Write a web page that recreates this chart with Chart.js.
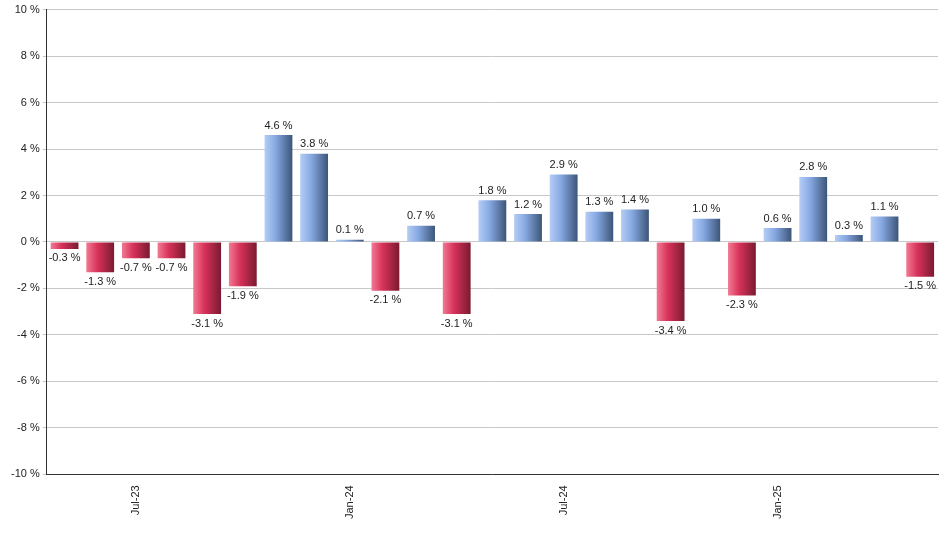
<!DOCTYPE html>
<html><head><meta charset="utf-8">
<script src="https://cdn.jsdelivr.net/npm/chart.js@4/dist/chart.umd.min.js"></script>
<style>body{margin:0;background:#fff}#wrap{width:940px;height:550px}</style>
</head><body><div id="wrap"><canvas id="c"></canvas></div>
<script>
// monthly returns, May-23 .. May-25
const months = ['May-23','Jun-23','Jul-23','Aug-23','Sep-23','Oct-23','Nov-23','Dec-23','Jan-24','Feb-24','Mar-24','Apr-24',
  'May-24','Jun-24','Jul-24','Aug-24','Sep-24','Oct-24','Nov-24','Dec-24','Jan-25','Feb-25','Mar-25','Apr-25','May-25'];
const returns = [-0.3,-1.3,-0.7,-0.7,-3.1,-1.9,4.6,3.8,0.1,-2.1,0.7,-3.1,1.8,1.2,2.9,1.3,1.4,-3.4,1.0,-2.3,0.6,2.8,0.3,1.1,-1.5];
const shownTicks = ['Jul-23','Jan-24','Jul-24','Jan-25'];
const barPct = 0.78;

function barFill(c) {
  const chart = c.chart, xs = chart.scales.x, area = chart.chartArea;
  const v = returns[c.dataIndex];
  if (!xs || !area) return v >= 0 ? '#7fa3e0' : '#d8325a';
  const cx = xs.getPixelForValue(c.dataIndex);
  const w = area.width / months.length * barPct;
  const g = chart.ctx.createLinearGradient(cx - w / 2, 0, cx + w / 2, 0);
  if (v >= 0) {
    g.addColorStop(0, '#b4cdf5'); g.addColorStop(0.4, '#86a8e2'); g.addColorStop(1, '#3c5578');
  } else {
    g.addColorStop(0, '#f27a93'); g.addColorStop(0.4, '#d8325a'); g.addColorStop(1, '#7a1a30');
  }
  return g;
}

const valueLabels = {
  id: 'valueLabels',
  afterDatasetsDraw(chart) {
    const ctx = chart.ctx;
    ctx.save();
    ctx.font = '11px Arial, "Liberation Sans"';
    ctx.fillStyle = '#222';
    ctx.textAlign = 'center';
    chart.getDatasetMeta(0).data.forEach((bar, i) => {
      const v = returns[i];
      const txt = v.toFixed(1) + ' %';
      if (v >= 0) { ctx.textBaseline = 'bottom'; ctx.fillText(txt, bar.x, bar.y - 4); }
      else { ctx.textBaseline = 'top'; ctx.fillText(txt, bar.x, bar.y + 4); }
    });
    ctx.restore();
  }
};

new Chart(document.getElementById('c'), {
  type: 'bar',
  data: { labels: months, datasets: [{ data: returns, backgroundColor: barFill, barPercentage: barPct, categoryPercentage: 1 }] },
  options: {
    responsive: true, maintainAspectRatio: false, animation: false,
    layout: { padding: { top: 2, right: 2, left: 8, bottom: 28 } },
    plugins: { legend: { display: false }, tooltip: { enabled: false } },
    scales: {
      y: {
        min: -10, max: 10,
        ticks: { stepSize: 2, color: '#222', font: { size: 11, family: 'Arial' }, callback: v => v + ' %' },
        grid: { color: '#c8c8c8', drawTicks: true, tickLength: 4 },
        border: { color: '#333' }
      },
      x: {
        grid: { display: false },
        border: { color: '#333' },
        ticks: {
          autoSkip: false, maxRotation: 90, minRotation: 90, color: '#222', font: { size: 11, family: 'Arial' },
          callback: function (v) { const l = this.getLabelForValue(v); return shownTicks.includes(l) ? l : ''; }
        }
      }
    }
  },
  plugins: [valueLabels]
});
</script></body></html>
